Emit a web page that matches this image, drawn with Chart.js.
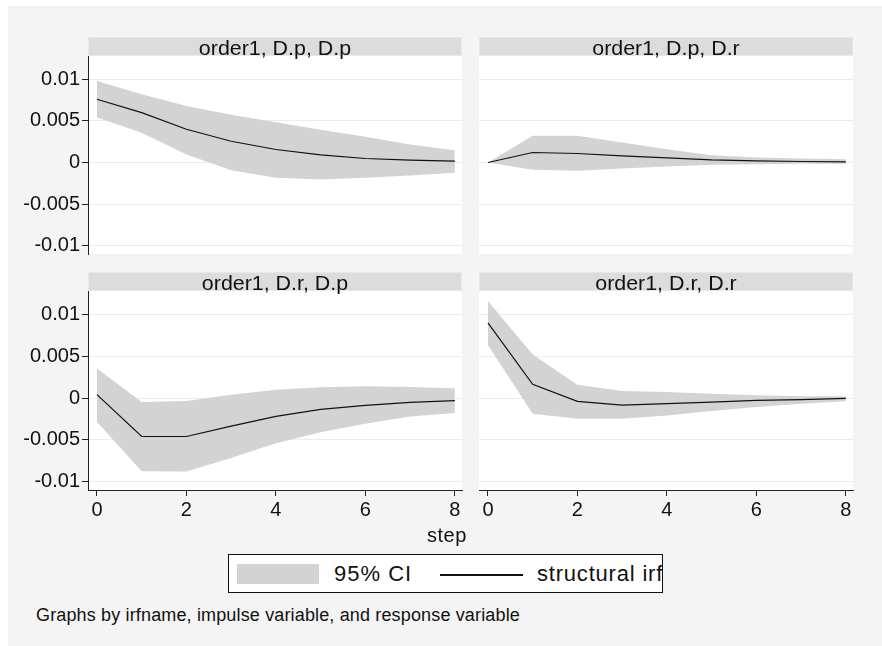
<!DOCTYPE html>
<html>
<head>
<meta charset="utf-8">
<script src="https://cdn.jsdelivr.net/npm/chart.js@4.4.1/dist/chart.umd.min.js"></script>
<style>
  body { margin: 0; width: 882px; height: 646px; background: #fff; overflow: hidden;
         font-family: "Liberation Sans", Arial, sans-serif; color: #111; }
  #bg { position: absolute; left: 8px; top: 6px; right: 0; bottom: 0; background: #f4f4f4; }
  canvas { position: absolute; }
  .hdr { position: absolute; height: 19px; background: #dcdcdc; border: 1px solid #e4e9ed; box-sizing: border-box; }
  .htxt { position: absolute; height: 20px; line-height: 20px; font-size: 20px; text-align: center;
          white-space: nowrap; transform: scaleX(1.07); }
  #legend { position: absolute; left: 228px; top: 554px; width: 435px; height: 39px; box-sizing: border-box;
            border: 1.5px solid #111; background: #fff; overflow: hidden; }
  .lt { position: absolute; font-size: 22px; line-height: 22px; white-space: nowrap; }
</style>
</head>
<body>
<div id="bg"></div>
<canvas id="c1"></canvas>
<canvas id="c2"></canvas>
<canvas id="c3"></canvas>
<canvas id="c4"></canvas>
<div id="hdrs"></div>
<div class="lt" style="left:427px;top:524px;font-size:20px;letter-spacing:0.5px;">step</div>
<div id="legend">
  <div style="position:absolute;left:8px;top:9px;width:82px;height:20px;background:#d3d3d3;"></div>
  <div class="lt" style="left:105px;top:8px;letter-spacing:1px;">95% CI</div>
  <div style="position:absolute;left:211px;top:19px;width:83px;height:1.5px;background:#111;"></div>
  <div class="lt" style="left:308px;top:8px;letter-spacing:0.8px;">structural irf</div>
</div>
<div class="lt" style="left:36px;top:606px;font-size:18px;line-height:18px;letter-spacing:0.15px;">Graphs by irfname, impulse variable, and response variable</div>

<script>
// irf steps and tick values
const steps = [0, 1, 2, 3, 4, 5, 6, 7, 8];
const xTicks = [0, 2, 4, 6, 8];
const yTicks = [-0.01, -0.005, 0, 0.005, 0.01];

// order1, D.p, D.p
const ppIrf = [0.0076, 0.0060, 0.0040, 0.00255, 0.00156, 0.00092, 0.00048, 0.00028, 0.00016];
const ppLo  = [0.0054, 0.00356, 0.00096, -0.00092, -0.00184, -0.00204, -0.00184, -0.00156, -0.00124];
const ppHi  = [0.0098, 0.0082, 0.0068, 0.00575, 0.00483, 0.00395, 0.00308, 0.00216, 0.00148];

// order1, D.p, D.r
const prIrf = [0, 0.0012, 0.00108, 0.0008, 0.00056, 0.00032, 0.0002, 0.00012, 0.00008];
const prLo  = [0, -0.00088, -0.001, -0.00072, -0.00048, -0.00028, -0.0002, -0.00016, -0.00016];
const prHi  = [0, 0.0032, 0.0032, 0.0024, 0.0016, 0.00088, 0.0006, 0.00048, 0.0004];

// order1, D.r, D.p
const rpIrf = [0.0004, -0.0046, -0.0046, -0.00336, -0.0022, -0.00136, -0.00088, -0.00052, -0.00032];
const rpLo  = [-0.00288, -0.00876, -0.0088, -0.00716, -0.0054, -0.00408, -0.00308, -0.0022, -0.0018];
const rpHi  = [0.00352, -0.00048, -0.00036, 0.0004, 0.001, 0.00128, 0.0014, 0.00132, 0.00116];

// order1, D.r, D.r
const rrIrf = [0.009, 0.00164, -0.0004, -0.00084, -0.00068, -0.00048, -0.00028, -0.0002, -0.00004];
const rrLo  = [0.00632, -0.00188, -0.00248, -0.00248, -0.00208, -0.00156, -0.00108, -0.00068, -0.0004];
const rrHi  = [0.0116, 0.0052, 0.0016, 0.00084, 0.00072, 0.00052, 0.00032, 0.0002, 0.0002];

const FONT = '"Liberation Sans", Arial, sans-serif';
const M = 16;   // spare room round each plot area

const plotBg = {
  id: 'plotBg',
  beforeDraw(chart) {
    const a = chart.chartArea, ctx = chart.ctx;
    ctx.save();
    ctx.fillStyle = '#fff';
    ctx.fillRect(a.left, a.top, a.right - a.left, a.bottom - a.top);
    ctx.restore();
  }
};

function pts(ys) {
  return steps.map((s, i) => ({ x: s, y: ys[i] }));
}

function makePanel(id, title, plot, leftCol, bottomRow, irf, lo, hi) {
  const cx = leftCol ? 0 : plot.left - M;
  const cy = plot.top - M;
  const w = plot.right + M - cx;
  const h = plot.bottom - cy + M + (bottomRow ? 30 : 0);
  const cv = document.getElementById(id);
  cv.width = w; cv.height = h;
  cv.style.left = cx + 'px'; cv.style.top = cy + 'px';

  // header bar
  const hd = document.getElementById('hdrs');
  const bar = document.createElement('div');
  bar.className = 'hdr';
  bar.style.cssText = `left:${plot.left}px;top:${plot.top - 19}px;width:${plot.right - plot.left}px;`;
  hd.appendChild(bar);
  const tx = document.createElement('div');
  tx.className = 'htxt';
  tx.style.cssText = `left:${plot.left}px;top:${plot.top - 18}px;width:${plot.right - plot.left}px;`;
  tx.textContent = title;
  hd.appendChild(tx);

  new Chart(cv, {
    type: 'line',
    data: {
      datasets: [
        { label: 'structural irf', data: pts(irf), borderColor: '#111', borderWidth: 1.2,
          pointRadius: 0, fill: false, tension: 0 },
        { label: '95% CI', data: pts(hi), borderWidth: 0, borderColor: 'rgba(0,0,0,0)',
          backgroundColor: '#d3d3d3', pointRadius: 0, fill: '+1', tension: 0 },
        { label: 'lower', data: pts(lo), borderWidth: 0, borderColor: 'rgba(0,0,0,0)',
          pointRadius: 0, fill: false, tension: 0 }
      ]
    },
    options: {
      responsive: false,
      animation: false,
      layout: { padding: { left: leftCol ? 0 : M, right: M, top: M, bottom: M } },
      plugins: { legend: { display: false }, tooltip: { enabled: false } },
      scales: {
        x: {
          type: 'linear', min: -0.2, max: 8.16, display: bottomRow,
          afterBuildTicks: s => { s.ticks = xTicks.map(v => ({ value: v })); },
          afterFit: s => { s.height = bottomRow ? 30 : 0; },
          grid: { drawOnChartArea: false, drawTicks: true, tickLength: 6, tickColor: '#222' },
          border: { display: true, color: '#222', width: 1 },
          ticks: { color: '#111', font: { size: 20, family: FONT }, padding: 2,
                   maxRotation: 0, autoSkip: false }
        },
        y: {
          type: 'linear', min: -0.011, max: 0.0128,
          afterBuildTicks: s => { s.ticks = yTicks.map(v => ({ value: v })); },
          afterFit: s => { s.width = leftCol ? plot.left : 0; },
          grid: { color: '#ececec', lineWidth: 1, drawTicks: leftCol, tickLength: 6, tickColor: '#222' },
          border: { display: leftCol, color: '#222', width: 1 },
          ticks: { display: leftCol, color: '#111', font: { size: 20, family: FONT }, padding: 2,
                   callback: v => String(v) }
        }
      }
    },
    plugins: [plotBg]
  });
}

makePanel('c1', 'order1, D.p, D.p', { left: 88, right: 462, top: 56, bottom: 254 }, true, false, ppIrf, ppLo, ppHi);
makePanel('c2', 'order1, D.p, D.r', { left: 479, right: 853, top: 56, bottom: 254 }, false, false, prIrf, prLo, prHi);
makePanel('c3', 'order1, D.r, D.p', { left: 88, right: 462, top: 291, bottom: 490 }, true, true, rpIrf, rpLo, rpHi);
makePanel('c4', 'order1, D.r, D.r', { left: 479, right: 853, top: 291, bottom: 490 }, false, true, rrIrf, rrLo, rrHi);
</script>
</body>
</html>
